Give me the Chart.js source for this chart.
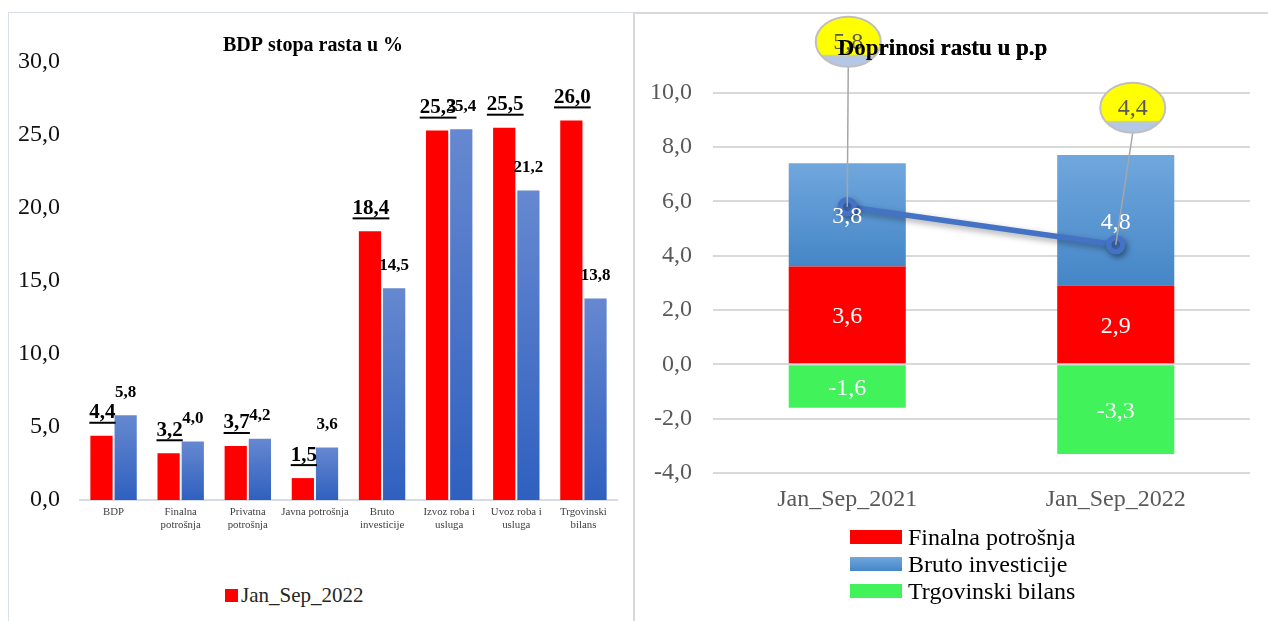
<!DOCTYPE html>
<html>
<head>
<meta charset="utf-8">
<script src="https://cdn.jsdelivr.net/npm/chart.js@4.4.0/dist/chart.umd.min.js"></script>
<style>
  body { margin: 0; background: #fff; font-family: "Liberation Serif", "Times New Roman", serif; }
  .panel { position: absolute; }
  .wrap { position: absolute; }
  .legend { position: absolute; font-family: "Liberation Serif", serif; }
  .legend .item { position: absolute; white-space: nowrap; display: flex; align-items: center; }
  .legend .box { display: inline-block; }
</style>
</head>
<body>
<div class="panel" style="left:8px;top:12px;width:624px;height:640px;border-left:1px solid #d9dee8;border-top:1px solid #d9dee8"></div>
<div class="panel" style="left:633px;top:12px;width:640px;height:640px;border-left:2px solid #d9d9d9;border-top:2px solid #d9d9d9"></div>

<div class="wrap" style="left:9px;top:13px;width:623px;height:540px"><canvas id="rastChart"></canvas></div>
<div class="wrap" style="left:635px;top:14px;width:633px;height:514px"><canvas id="doprChart"></canvas></div>

<div class="legend" id="legendL"></div>
<div class="legend" id="legendR"></div>

<script>
// 1. PODACI - lijevi grafikon (stopa rasta u %)
const kategorije = ['BDP', ['Finalna', 'potrošnja'], ['Privatna', 'potrošnja'], 'Javna potrošnja',
                    ['Bruto', 'investicije'], ['Izvoz roba i', 'usluga'], ['Uvoz roba i', 'usluga'], ['Trgovinski', 'bilans']];
const rast2022 = [4.4, 3.2, 3.7, 1.5, 18.4, 25.3, 25.5, 26.0];
const rast2021 = [5.8, 4.0, 4.2, 3.6, 14.5, 25.4, 21.2, 13.8];

// 2. PODACI - desni grafikon (doprinosi rastu u p.p)
const periodi = ['Jan_Sep_2021', 'Jan_Sep_2022'];
const finalnaPotrosnja = [3.6, 2.9];
const brutoInvesticije = [3.8, 4.8];
const trgovinskiBilans = [-1.6, -3.3];
const bdpRast = [5.8, 4.4];

const SERIF = '"Liberation Serif", "Times New Roman", serif';
const fmt = v => Number(v).toFixed(1).replace('.', ',');

// gradijent po stupcu (od vrha do baze)
function gradijent(svijetla, tamna, baza) {
    return function(ctx) {
        const chart = ctx.chart;
        if (!chart.chartArea || ctx.type !== 'data') return tamna;
        const y = chart.scales.y;
        const b = baza ? baza[ctx.dataIndex] : 0;
        const v = ctx.raw + b;
        const g = chart.ctx.createLinearGradient(0, y.getPixelForValue(v), 0, y.getPixelForValue(b));
        g.addColorStop(0, svijetla);
        g.addColorStop(1, tamna);
        return g;
    };
}

// 3. LIJEVI GRAFIKON
const oznakeIznad = {
    id: 'oznakeIznad',
    afterDatasetsDraw(chart) {
        const c = chart.ctx;
        chart.data.datasets.forEach((ds, di) => {
            const meta = chart.getDatasetMeta(di);
            const crveni = di === 0;
            c.save();
            c.font = 'bold ' + (crveni ? 21 : 17) + 'px ' + SERIF;
            c.fillStyle = '#000';
            c.textAlign = 'center';
            c.textBaseline = 'middle';
            meta.data.forEach((bar, i) => {
                const t = fmt(ds.data[i]);
                const x = bar.x + (crveni ? 1 : 0);
                const y = bar.y - 23;
                c.fillText(t, x, y);
                if (crveni) {
                    const w = c.measureText(t).width;
                    c.fillRect(x - w / 2, y + 9, w, 2);
                }
            });
            c.restore();
        });
    }
};

const rastChart = new Chart(document.getElementById('rastChart'), {
    type: 'bar',
    data: {
        labels: kategorije,
        datasets: [{
            label: 'Jan_Sep_2022',
            data: rast2022,
            backgroundColor: '#ff0000',
            legendColor: '#ff0000'
        }, {
            label: 'Jan_Sep_2021',
            data: rast2021,
            backgroundColor: gradijent('#6688d0', '#2f60bf'),
            hideInLegend: true
        }]
    },
    options: {
        responsive: true, maintainAspectRatio: false, animation: false,
        layout: { padding: { left: 0, right: 15, top: 0, bottom: 0 } },
        datasets: { bar: { categoryPercentage: 0.72, barPercentage: 0.92 } },
        plugins: {
            legend: { display: false },
            tooltip: { enabled: false },
            title: {
                display: true, text: 'BDP stopa rasta u %', color: '#000',
                font: { family: SERIF, size: 20, weight: 'bold' },
                padding: { top: 21, bottom: 4 }
            }
        },
        scales: {
            y: {
                min: 0, max: 30,
                ticks: { stepSize: 5, callback: fmt, color: '#111', padding: 20, font: { family: SERIF, size: 24 } },
                grid: { display: false, drawTicks: false },
                border: { display: false },
                afterFit(s) { s.width = 71; }
            },
            x: {
                ticks: { color: '#404040', padding: 6, maxRotation: 0, autoSkip: false, font: { family: SERIF, size: 10.8 } },
                grid: { display: false, drawTicks: false },
                border: { display: true, color: '#d6dce6', width: 2 },
                afterFit(s) { s.height = 53; }
            }
        }
    },
    plugins: [oznakeIznad]
});

// 4. DESNI GRAFIKON
const oznakeUnutra = {
    id: 'oznakeUnutra',
    afterDatasetsDraw(chart) {
        const c = chart.ctx;
        c.save();
        c.font = '24px ' + SERIF;
        c.fillStyle = '#fff';
        c.textAlign = 'center';
        c.textBaseline = 'middle';
        chart.data.datasets.forEach((ds, di) => {
            if (ds.type === 'line') return;
            chart.getDatasetMeta(di).data.forEach((bar, i) => {
                const p = bar.getCenterPoint();
                c.fillText(fmt(ds.data[i]), p.x, p.y + 2);
            });
        });
        c.restore();

        // oblacici za BDP liniju
        const li = chart.data.datasets.findIndex(d => d.type === 'line');
        const ds = chart.data.datasets[li];
        const pomak = [[1, -165], [17, -137]];
        chart.getDatasetMeta(li).data.forEach((pt, i) => {
            const cx = pt.x + pomak[i][0], cy = pt.y + pomak[i][1];
            const rx = 32.5, ry = 25;
            c.save();
            c.strokeStyle = '#a6a6a6';
            c.lineWidth = 1.5;
            c.beginPath();
            c.moveTo(cx, cy + ry);
            c.lineTo(pt.x, pt.y);
            c.stroke();
            c.beginPath();
            c.ellipse(cx, cy, rx, ry, 0, 0, Math.PI * 2);
            c.fillStyle = '#ffff00';
            c.fill();
            c.save();
            c.clip();
            c.fillStyle = '#b4c7e7';
            c.fillRect(cx - rx, cy + 14, rx * 2, ry);
            c.fillStyle = '#d8d860';
            c.fillRect(cx - rx, cy + 13, rx * 2, 1.5);
            c.restore();
            c.strokeStyle = '#bfbfbf';
            c.lineWidth = 2;
            c.stroke();
            c.font = '24px ' + SERIF;
            c.fillStyle = '#595959';
            c.textAlign = 'center';
            c.textBaseline = 'middle';
            c.fillText(fmt(ds.data[i]), cx, cy + 1);
            c.restore();
        });
    },
    beforeDatasetDraw(chart, args) {
        if (chart.data.datasets[args.index].type === 'line') {
            const c = chart.ctx;
            c.save();
            c.shadowColor = 'rgba(0,0,0,0.35)';
            c.shadowBlur = 6;
            c.shadowOffsetX = 2;
            c.shadowOffsetY = 3;
        }
    },
    afterDatasetDraw(chart, args) {
        if (chart.data.datasets[args.index].type === 'line') chart.ctx.restore();
    },
    afterDraw(chart) {
        // naslov preko oblacica
        if (chart.titleBlock) chart.titleBlock.draw();
    }
};

const doprChart = new Chart(document.getElementById('doprChart'), {
    type: 'bar',
    data: {
        labels: periodi,
        datasets: [{
            label: 'Finalna potrošnja',
            data: finalnaPotrosnja,
            backgroundColor: '#ff0000',
            legendColor: '#ff0000',
            order: 1
        }, {
            label: 'Bruto investicije',
            data: brutoInvesticije,
            backgroundColor: gradijent('#70a7dd', '#4586c7', finalnaPotrosnja),
            legendColor: 'linear-gradient(#70a7dd, #4586c7)',
            order: 1
        }, {
            label: 'Trgovinski bilans',
            data: trgovinskiBilans,
            backgroundColor: '#41f25b',
            legendColor: '#41f25b',
            order: 1
        }, {
            type: 'line',
            label: 'BDP',
            data: bdpRast,
            stack: 'linija',
            borderColor: '#4472c4',
            backgroundColor: '#4472c4',
            borderWidth: 5.5,
            pointRadius: 7,
            pointBackgroundColor: '#4472c4',
            pointBorderColor: '#4472c4',
            order: 0,
            hideInLegend: true
        }]
    },
    options: {
        responsive: true, maintainAspectRatio: false, animation: false,
        layout: { padding: { left: 0, right: 18, top: 0, bottom: 0 } },
        datasets: { bar: { categoryPercentage: 1, barPercentage: 0.436 } },
        plugins: {
            legend: { display: false },
            tooltip: { enabled: false },
            title: {
                display: true, text: 'Doprinosi rastu u p.p', color: '#000',
                font: { family: SERIF, size: 23, weight: 'bold' },
                padding: { top: 21, bottom: 30 }
            }
        },
        scales: {
            y: {
                stacked: true, min: -4, max: 10,
                ticks: { stepSize: 2, callback: fmt, color: '#595959', padding: 21, font: { family: SERIF, size: 24 } },
                grid: { color: '#d9d9d9', lineWidth: 2, drawTicks: false },
                border: { display: false },
                afterFit(s) { s.width = 78; }
            },
            x: {
                stacked: true,
                ticks: { color: '#595959', padding: 12, font: { family: SERIF, size: 24 } },
                grid: { display: false, drawTicks: false },
                border: { display: false },
                afterFit(s) { s.height = 55; }
            }
        }
    },
    plugins: [oznakeUnutra]
});

// 5. LEGENDE (HTML, iz skupova podataka)
function napraviLegendu(chart, el, opcije) {
    el.style.left = opcije.x + 'px';
    el.style.top = opcije.y + 'px';
    let red = 0;
    chart.data.datasets.forEach(ds => {
        if (ds.hideInLegend) return;
        const item = document.createElement('div');
        item.className = 'item';
        item.style.top = (red * opcije.razmak) + 'px';
        item.style.height = opcije.visina + 'px';
        item.style.fontSize = opcije.font + 'px';
        item.style.color = opcije.boja;
        const box = document.createElement('span');
        box.className = 'box';
        box.style.width = opcije.boxW + 'px';
        box.style.height = opcije.boxH + 'px';
        box.style.background = ds.legendColor;
        box.style.marginRight = opcije.razmakTekst + 'px';
        item.appendChild(box);
        item.appendChild(document.createTextNode(ds.label));
        el.appendChild(item);
        red++;
    });
}
napraviLegendu(rastChart, document.getElementById('legendL'),
    { x: 225, y: 583, razmak: 24, visina: 24, font: 21, boja: '#262626', boxW: 13, boxH: 13, razmakTekst: 3 });
napraviLegendu(doprChart, document.getElementById('legendR'),
    { x: 850, y: 524, razmak: 27, visina: 26, font: 24, boja: '#000', boxW: 52, boxH: 14, razmakTekst: 6 });
</script>
</body>
</html>
